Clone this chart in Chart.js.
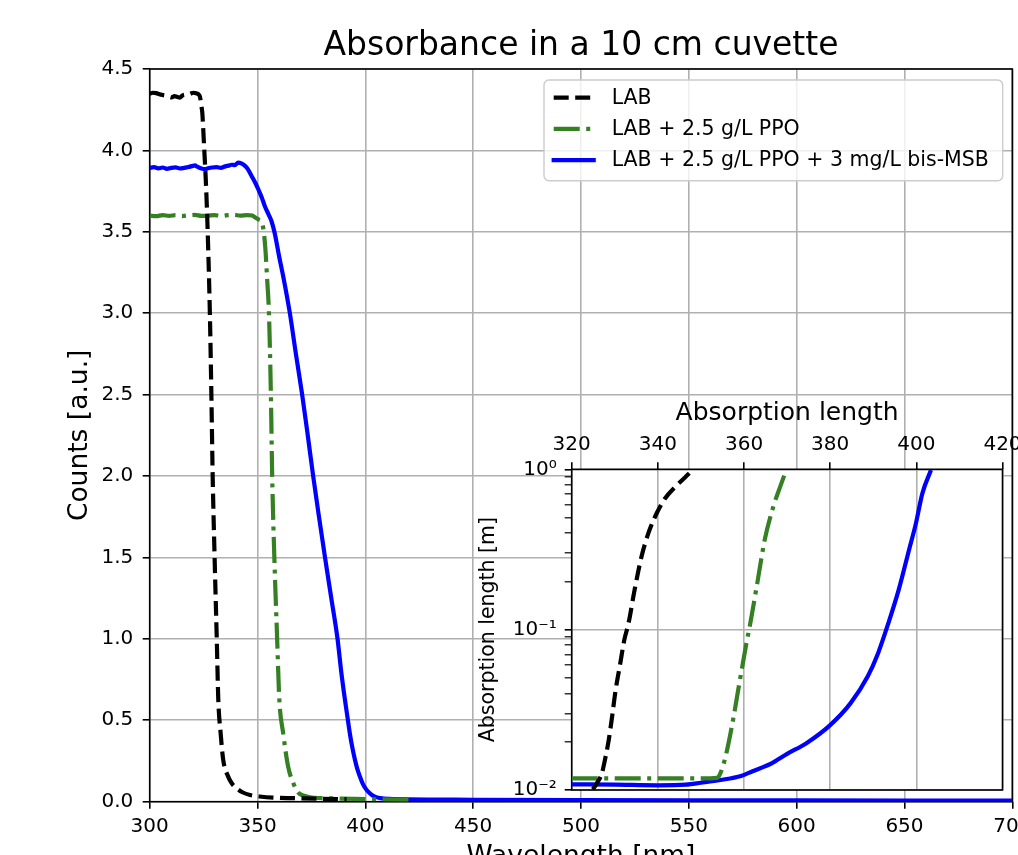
<!DOCTYPE html>
<html>
<head>
<meta charset="utf-8">
<title>Absorbance in a 10 cm cuvette</title>
<script src="https://cdn.jsdelivr.net/npm/chart.js@4.4.1/dist/chart.umd.min.js"></script>
<style>
  html, body { margin: 0; padding: 0; background: #fff; overflow: hidden; }
  #wrap { position: relative; width: 1018px; height: 855px; overflow: hidden; }
  #mainChart { position: absolute; left: 0; top: 0; }
  #insetChart { position: absolute; left: 440px; top: 380px; }
</style>
</head>
<body>
<div id="wrap">
  <canvas id="mainChart" width="1060" height="900"></canvas>
  <canvas id="insetChart" width="640" height="430"></canvas>
</div>
<script>
// ---- DATA: main panel (absorbance in 10 cm) ----
const labNm  = [300, 301.5, 303, 304.5, 306, 307.5, 309, 310.2, 311.5, 312.5, 314, 315, 316, 318, 319, 320.2, 321.8, 322.8, 323.3, 324.0, 324.4, 325.2, 326.0, 326.7, 327.9, 328.6, 329.2, 330.1, 331.1, 331.8, 332.9, 334.1, 336.4, 338.2, 340.3, 343, 346.5, 351, 357.3, 369.7, 380, 391.3];
const labAbs = [4.348, 4.354, 4.352, 4.345, 4.340, 4.336, 4.330, 4.326, 4.333, 4.330, 4.324, 4.336, 4.342, 4.344, 4.349, 4.354, 4.350, 4.342, 4.330, 4.27, 4.23, 4.03, 3.82, 3.58, 3.0, 2.5, 2.0, 1.5, 1.0, 0.63, 0.42, 0.256, 0.154, 0.11, 0.082, 0.058, 0.041, 0.032, 0.025, 0.021, 0.018, 0.015];

const ppoNm  = [300, 303, 306, 309, 312, 315, 318, 321, 324, 327, 330, 333, 336, 339, 342, 345, 347.5, 348.8, 350.5, 352.2, 353.5, 354.5, 355.3, 356.2, 356.8, 357.8, 359.1, 360.1, 361.9, 364.2, 366.6, 368.9, 371.5, 374.3, 380, 388.2, 395, 405.2, 420];
const ppoAbs = [3.600, 3.596, 3.603, 3.598, 3.602, 3.597, 3.601, 3.604, 3.598, 3.600, 3.603, 3.597, 3.602, 3.604, 3.600, 3.603, 3.600, 3.59, 3.575, 3.55, 3.42, 3.2, 3.0, 2.5, 2.0, 1.5, 1.0, 0.63, 0.42, 0.215, 0.113, 0.056, 0.037, 0.027, 0.022, 0.019, 0.017, 0.015, 0.012];

const msbNm  = [300, 302, 304, 306, 308, 310, 312, 314, 316, 318, 320, 321, 322, 324, 325.6, 327, 329, 331, 333, 335, 337, 338, 339.5, 341, 342.5, 344.2, 345.5, 347.3, 349, 350.4, 352, 353.4, 355, 356.5, 358, 360, 362, 365, 367.8, 370.7, 373.3, 375.8, 378.5, 381.3, 384.2, 387.1, 388.8, 390.5, 391.7, 392.8, 394, 395.2, 396.3, 397.5, 399, 400.6, 402.5, 404.4, 407, 411.4, 420, 450, 500, 550, 600, 650, 700];
const msbAbs = [3.893, 3.897, 3.890, 3.895, 3.887, 3.893, 3.896, 3.889, 3.893, 3.898, 3.905, 3.908, 3.900, 3.889, 3.885, 3.890, 3.895, 3.897, 3.893, 3.902, 3.908, 3.912, 3.910, 3.925, 3.920, 3.905, 3.885, 3.842, 3.80, 3.76, 3.71, 3.657, 3.61, 3.565, 3.49, 3.35, 3.22, 3.0, 2.75, 2.5, 2.25, 2.0, 1.75, 1.5, 1.25, 1.0, 0.8, 0.63, 0.52, 0.42, 0.33, 0.256, 0.2, 0.154, 0.105, 0.072, 0.047, 0.031, 0.022, 0.017, 0.014, 0.012, 0.010, 0.009, 0.008, 0.007, 0.006];

// ---- DATA: inset (absorption length, m) ----
const labLenNm = [320, 322, 324, 325, 326, 327, 327.8, 328.6, 329.4, 330.2, 331.2, 332.2, 333.2, 334.6, 336.2, 337.8, 339.7, 341.7, 344.1, 347.3];
const labLen   = [0.0096, 0.0096, 0.0098, 0.0102, 0.0112, 0.0127, 0.0158, 0.0205, 0.029, 0.042, 0.06, 0.086, 0.11, 0.177, 0.285, 0.40, 0.53, 0.66, 0.78, 0.944];

const ppoLenNm = [320, 330, 340, 350, 353.7, 354.5, 355.7, 357.3, 358.9, 360.4, 361.6, 363.2, 364.8, 366.8, 368.4, 369.8];
const ppoLen   = [0.0118, 0.0118, 0.0118, 0.0118, 0.0119, 0.0127, 0.0161, 0.026, 0.046, 0.078, 0.115, 0.204, 0.363, 0.585, 0.78, 0.99];

const msbLenNm = [320, 330, 340, 346.5, 350, 354.5, 359.3, 362, 366.4, 370, 374.4, 380, 384.7, 388.7, 391.1, 393.5, 395.9, 398.3, 399.9, 401.4, 403.4];
const msbLen   = [0.01085, 0.0108, 0.0107, 0.0108, 0.0111, 0.01154, 0.01222, 0.0131, 0.01466, 0.0168, 0.01953, 0.0254, 0.0347, 0.051, 0.0711, 0.1096, 0.177, 0.314, 0.46, 0.708, 0.99];

// ---- TICKS ----
const mainXTicks = [300, 350, 400, 450, 500, 550, 600, 650, 700];
const mainYTicks = [0, 0.5, 1.0, 1.5, 2.0, 2.5, 3.0, 3.5, 4.0, 4.5];
const insetXTicks = [320, 340, 360, 380, 400, 420];
const insetYMajor = [0.01, 0.1, 1];
const insetYLabels = ['10\u207B\u00B2', '10\u207B\u00B9', '10\u2070'];
const insetYMinor = [0.02, 0.03, 0.04, 0.05, 0.06, 0.07, 0.08, 0.09, 0.2, 0.3, 0.4, 0.5, 0.6, 0.7, 0.8, 0.9];

const seriesLabels = ['LAB', 'LAB + 2.5 g/L PPO', 'LAB + 2.5 g/L PPO + 3 mg/L bis-MSB'];

// ---- STYLE ----
Chart.defaults.font.family = "'DejaVu Sans', sans-serif";
Chart.defaults.color = '#000';

const GRID = '#b0b0b0';
const COLORS = ['#000000', '#358023', '#0000ff'];
const DASHES = [[15, 6.5], [26, 6.5, 4, 6.5], []];

const pts = (xs, ys) => xs.map((x, i) => ({ x, y: ys[i] }));

const makeSets = (series) => series.map((s, i) => ({
  label: seriesLabels[i],
  data: pts(s[0], s[1]),
  borderColor: COLORS[i],
  backgroundColor: COLORS[i],
  borderDash: DASHES[i],
  borderWidth: 4.2,
  borderJoinStyle: 'round',
  pointRadius: 0,
  cubicInterpolationMode: 'monotone',
  fill: false
}));

const isMajor = v => insetYMajor.some(m => Math.abs(m - v) < m * 1e-6);

// white axes face + black frame on all four sides
const frame = {
  id: 'frame',
  beforeDraw(chart, args, opts) {
    if (!opts.fill) return;
    const { ctx, chartArea: a } = chart;
    ctx.save();
    ctx.fillStyle = opts.fill;
    ctx.fillRect(a.left, a.top, a.right - a.left, a.bottom - a.top);
    ctx.restore();
  },
  beforeDatasetsDraw(chart) {
    const { ctx, chartArea: a } = chart;
    ctx.save();
    ctx.strokeStyle = '#000';
    ctx.lineWidth = 1.6;
    ctx.strokeRect(a.left, a.top, a.right - a.left, a.bottom - a.top);
    ctx.restore();
  }
};

// matplotlib-like boxed legend inside the axes
const boxLegend = {
  id: 'boxLegend',
  afterDatasetsDraw(chart, args, o) {
    const ctx = chart.ctx;
    const r = 5, x = o.x, y = o.y, w = o.w, h = o.h;
    ctx.save();
    ctx.beginPath();
    ctx.moveTo(x + r, y);
    ctx.lineTo(x + w - r, y); ctx.arcTo(x + w, y, x + w, y + r, r);
    ctx.lineTo(x + w, y + h - r); ctx.arcTo(x + w, y + h, x + w - r, y + h, r);
    ctx.lineTo(x + r, y + h); ctx.arcTo(x, y + h, x, y + h - r, r);
    ctx.lineTo(x, y + r); ctx.arcTo(x, y, x + r, y, r);
    ctx.closePath();
    ctx.fillStyle = 'rgba(255,255,255,0.8)';
    ctx.fill();
    ctx.strokeStyle = '#cccccc';
    ctx.lineWidth = 1.4;
    ctx.stroke();

    ctx.font = o.fontSize + "px 'DejaVu Sans', sans-serif";
    ctx.textBaseline = 'middle';
    ctx.textAlign = 'left';
    chart.data.datasets.forEach((ds, i) => {
      const yy = y + o.firstRow + i * o.rowGap;
      const dash = ds.borderDash || [];
      ctx.beginPath();
      ctx.setLineDash(dash);
      ctx.lineCap = dash.length ? 'butt' : 'square';
      ctx.strokeStyle = ds.borderColor;
      ctx.lineWidth = ds.borderWidth;
      ctx.moveTo(x + o.handleX, yy);
      ctx.lineTo(x + o.handleX + o.handleLen, yy);
      ctx.stroke();
      ctx.setLineDash([]);
      ctx.fillStyle = '#000';
      ctx.fillText(ds.label, x + o.textX, yy + 1);
    });
    ctx.restore();
  }
};

const tickGrid = {
  color: GRID, lineWidth: 1.6,
  tickColor: '#000', tickLength: 7, tickWidth: 1.6
};

// ---- MAIN CHART ----
new Chart(document.getElementById('mainChart'), {
  type: 'line',
  data: {
    datasets: makeSets([[labNm, labAbs], [ppoNm, ppoAbs], [msbNm, msbAbs]])
  },
  options: {
    responsive: false,
    animation: false,
    devicePixelRatio: 1,
    layout: { padding: { left: 0, top: 0, right: 47.7, bottom: 0 } },
    scales: {
      x: {
        type: 'linear', min: 300, max: 700,
        afterBuildTicks: s => { s.ticks = mainXTicks.map(v => ({ value: v })); },
        afterFit: s => { s.height = 98.3; },
        ticks: { font: { size: 20 }, padding: 6, maxRotation: 0, autoSkip: false, callback: v => String(v) },
        grid: tickGrid,
        border: { display: false },
        title: { display: true, text: 'Wavelength [nm]', font: { size: 26.5 }, padding: { top: 0, bottom: 27 } }
      },
      y: {
        type: 'linear', min: 0, max: 4.5,
        afterBuildTicks: s => { s.ticks = mainYTicks.map(v => ({ value: v })); },
        afterFit: s => { s.width = 149.7; },
        ticks: { font: { size: 20 }, padding: 9.4, autoSkip: false, callback: v => v.toFixed(1) },
        grid: tickGrid,
        border: { display: false },
        title: { display: true, text: 'Counts [a.u.]', font: { size: 26.5 }, padding: { top: 64, bottom: 0 } }
      }
    },
    plugins: {
      legend: { display: false },
      tooltip: { enabled: false },
      title: {
        display: true, fullSize: false,
        text: 'Absorbance in a 10 cm cuvette',
        font: { size: 33, weight: 'normal' },
        padding: { top: 26.2, bottom: 3.2 }
      },
      frame: {},
      boxLegend: {
        x: 544, y: 80, w: 458.7, h: 100.7,
        firstRow: 17.7, rowGap: 31.2,
        handleX: 9.7, handleLen: 40, textX: 67.7,
        fontSize: 20.5
      }
    }
  },
  plugins: [frame, boxLegend]
});

// ---- INSET ----
new Chart(document.getElementById('insetChart'), {
  type: 'line',
  data: {
    datasets: makeSets([[labLenNm, labLen], [ppoLenNm, ppoLen], [msbLenNm, msbLen]])
  },
  options: {
    responsive: false,
    animation: false,
    devicePixelRatio: 1,
    layout: { padding: { left: 0, top: 0, right: 77.5, bottom: 19.5 } },
    scales: {
      x: {
        type: 'linear', position: 'top', min: 320, max: 420,
        afterBuildTicks: s => { s.ticks = insetXTicks.map(v => ({ value: v })); },
        afterFit: s => { s.height = 40.8; },
        ticks: { font: { size: 20 }, padding: 6, maxRotation: 0, autoSkip: false, callback: v => String(v) },
        grid: tickGrid,
        border: { display: false }
      },
      y: {
        type: 'logarithmic', min: 0.01, max: 1,
        afterBuildTicks: s => {
          s.ticks = insetYMajor.concat(insetYMinor).sort((a, b) => a - b)
            .map(v => ({ value: v, major: isMajor(v) }));
        },
        afterFit: s => { s.width = 131.7; },
        ticks: {
          font: { size: 20 }, padding: 8, autoSkip: false,
          callback: v => {
            const k = insetYMajor.findIndex(m => Math.abs(m - v) < m * 1e-6);
            return k >= 0 ? insetYLabels[k] : '';
          }
        },
        grid: {
          color: c => (c.tick && isMajor(c.tick.value)) ? GRID : 'rgba(0,0,0,0)',
          lineWidth: 1.6,
          tickColor: '#000',
          tickLength: 7,
          tickWidth: c => (c.tick && isMajor(c.tick.value)) ? 1.6 : 1.2
        },
        border: { display: false },
        title: { display: true, text: 'Absorption length [m]', font: { size: 20.5 }, padding: { top: 36, bottom: 0 } }
      }
    },
    plugins: {
      legend: { display: false },
      tooltip: { enabled: false },
      title: {
        display: true, fullSize: false,
        text: 'Absorption length',
        font: { size: 25, weight: 'normal' },
        padding: { top: 18.5, bottom: 0 }
      },
      frame: { fill: '#ffffff' }
    }
  },
  plugins: [frame]
});
</script>
</body>
</html>
